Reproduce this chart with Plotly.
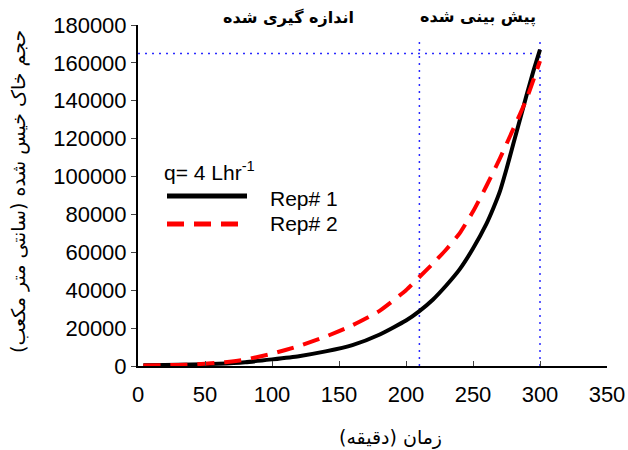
import plotly.graph_objects as go

# ---- data ----
x_rep1 = [4, 20, 40, 60, 80, 100, 120, 140, 160, 180, 200, 210, 220, 230, 240, 250, 260, 265, 270, 275, 280, 285, 290, 295, 300]
y_rep1 = [400, 550, 800, 1200, 2000, 3500, 5200, 7700, 11000, 16500, 24000, 29000, 35000, 42500, 51000, 62000, 75000, 83000, 92000, 104000, 117000, 130000, 143000, 155500, 167000]

x_rep2 = [4, 20, 40, 60, 70, 80, 100, 120, 140, 160, 180, 200, 210, 220, 230, 240, 250, 260, 270, 280, 290, 300]
y_rep2 = [200, 400, 800, 1700, 2400, 3400, 6500, 10500, 15500, 21500, 29000, 40000, 47000, 54000, 61500, 70000, 81500, 95000, 109500, 125000, 141000, 161000]

guide_x = [210, 300]          # vertical dotted guides
guide_top = 171000
guide_h_y = 165000            # horizontal dotted guide
guide_h_x = [0, 300]

x_ticks = [0, 50, 100, 150, 200, 250, 300, 350]
y_ticks = [0, 20000, 40000, 60000, 80000, 100000, 120000, 140000, 160000, 180000]

title_measured = "اندازه گیری شده"
title_predicted = "پیش بینی شده"
x_title = "زمان (دقیقه)"
y_title = "حجم خاک خیس شده (سانتی متر مکعب)"
legend_title = "q= 4 Lhr<sup>-1</sup>"
names = ["Rep# 1", "Rep# 2"]

fig = go.Figure()

dot_style = dict(color="#2a2aff", width=1.5, dash="2px,5px")
for gx in guide_x:
    fig.add_trace(go.Scatter(x=[gx, gx], y=[0, guide_top], mode="lines",
                             line=dot_style, showlegend=False, hoverinfo="skip"))
fig.add_trace(go.Scatter(x=guide_h_x, y=[guide_h_y, guide_h_y], mode="lines",
                         line=dot_style, showlegend=False, hoverinfo="skip"))

fig.add_trace(go.Scatter(x=x_rep1, y=y_rep1, mode="lines", name=names[0],
                         line=dict(color="black", width=4, shape="spline", smoothing=0.5),
                         showlegend=False))
fig.add_trace(go.Scatter(x=x_rep2, y=y_rep2, mode="lines", name=names[1],
                         line=dict(color="#ff0000", width=4, dash="17px,10px",
                                   shape="spline", smoothing=0.5),
                         showlegend=False))

L, R, T, B = 138, 21, 25, 84
fig.update_layout(
    width=628, height=450,
    margin=dict(l=L, r=R, t=T, b=B, autoexpand=False),
    paper_bgcolor="white", plot_bgcolor="white",
    font=dict(family="Liberation Sans, Arial", size=20, color="black"),
    xaxis=dict(range=[0, 350], tickvals=x_ticks, ticks="inside", ticklen=5,
               tickwidth=1, tickcolor="#444", showline=True, linecolor="black",
               linewidth=2, showgrid=False, zeroline=False, automargin=False,
               tickfont=dict(size=22), ticklabelstandoff=8),
    yaxis=dict(range=[0, 180000], tickvals=y_ticks, tickformat="d",
               ticks="outside", ticklen=5, tickwidth=1, tickcolor="#444",
               showline=True, linecolor="black", linewidth=2, showgrid=False,
               zeroline=False, automargin=False, tickfont=dict(size=22)),
)

pw = 628 - L - R
ph = 450 - T - B
def px(xp):
    return (xp - L) / pw
def py(yp):
    return (450 - B - yp) / ph

# custom legend
fig.add_shape(type="line", xref="paper", yref="paper", x0=px(167), x1=px(247),
              y0=py(196), y1=py(196), line=dict(color="black", width=5))
fig.add_shape(type="line", xref="paper", yref="paper", x0=px(167), x1=px(240),
              y0=py(224), y1=py(224), line=dict(color="#ff0000", width=5, dash="17px,10px"))
fig.add_annotation(text=legend_title, xref="paper", yref="paper", x=px(162), y=py(171),
                   xanchor="left", yanchor="middle", showarrow=False, font=dict(size=21))
fig.add_annotation(text=names[0], xref="paper", yref="paper", x=px(268), y=py(198),
                   xanchor="left", yanchor="middle", showarrow=False, font=dict(size=21))
fig.add_annotation(text=names[1], xref="paper", yref="paper", x=px(268), y=py(224),
                   xanchor="left", yanchor="middle", showarrow=False, font=dict(size=21))

# titles
fig.add_annotation(text="<b>" + title_predicted + "</b>", xref="paper", yref="paper",
                   x=px(478), y=py(17), xanchor="center", yanchor="middle", showarrow=False,
                   font=dict(family="DejaVu Sans", size=16))
fig.add_annotation(text="<b>" + title_measured + "</b>", xref="paper", yref="paper",
                   x=px(288), y=py(17), xanchor="center", yanchor="middle", showarrow=False,
                   font=dict(family="DejaVu Sans", size=16))
fig.add_annotation(text=x_title, xref="paper", yref="paper", x=px(390), y=py(437),
                   xanchor="center", yanchor="middle", showarrow=False,
                   font=dict(family="DejaVu Sans", size=19))
fig.add_annotation(text=y_title, xref="paper", yref="paper", x=px(18), y=py(192),
                   xanchor="center", yanchor="middle", showarrow=False, textangle=-90,
                   font=dict(family="DejaVu Sans", size=19))

fig.write_html("out.html")
